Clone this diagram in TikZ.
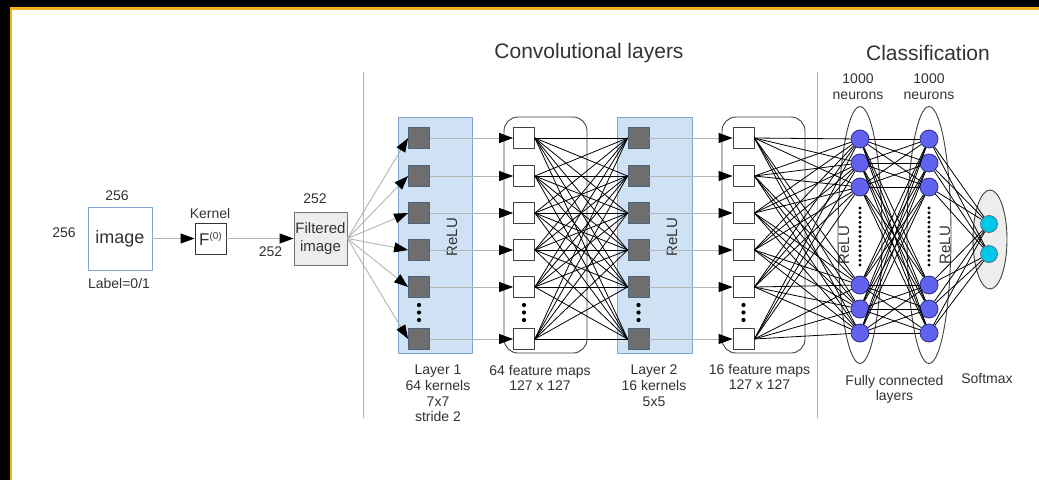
\documentclass[tikz,border=0pt]{standalone}
\usepackage{fontspec}
\setmainfont{Liberation Sans}
\usetikzlibrary{arrows.meta,shapes.geometric}
\definecolor{txt}{RGB}{51,51,51}
\definecolor{lineg}{RGB}{180,180,180}
\definecolor{bluefill}{RGB}{207,226,243}
\definecolor{blueedge}{RGB}{130,165,205}
\definecolor{sqfill}{RGB}{110,110,110}
\definecolor{neur}{RGB}{98,98,240}
\definecolor{neuredge}{RGB}{45,45,140}
\definecolor{soft}{RGB}{0,200,235}
\definecolor{frame}{RGB}{240,180,30}
\begin{document}
\begin{tikzpicture}[x=1pt,y=-1pt,>={Triangle[length=14pt,width=10pt,color=black]},
	font=\fontsize{14}{15.6}\selectfont, text=txt, line join=round,
	lbl/.style={align=center, inner sep=0pt},
	darksq/.style={draw=blueedge!60!black, line width=0.8pt, fill=sqfill, minimum size=21pt, inner sep=0pt},
	whitesq/.style={draw=black!75, line width=0.8pt, fill=white, minimum size=21pt, inner sep=0pt},
	neuron/.style={circle, draw=neuredge, line width=0.8pt, fill=neur, minimum size=18pt, inner sep=0pt},
	outneuron/.style={circle, draw=cyan!50!black, line width=0.8pt, fill=soft, minimum size=17pt, inner sep=0pt},
	group/.style={draw=black!75, line width=0.9pt, rounded corners=14pt, minimum width=83pt, minimum height=236pt},
	layerbox/.style={draw=blueedge, line width=0.9pt, fill=bluefill, minimum width=74pt, minimum height=236pt},
	fcbox/.style={ellipse, draw=black!75, line width=0.9pt, minimum width=44pt, minimum height=257pt, inner sep=0pt},
	feed/.style={draw=lineg, line width=0.9pt},
	conn/.style={draw=black, line width=0.8pt},
	relu/.style={rotate=90, inner sep=0pt, font=\fontsize{15}{15}\selectfont}]
	\def\ya{138} \def\yb{176} \def\yc{213} \def\yd{250} \def\ye{287} \def\yf{339}
	% frame
	\fill[black] (0,0) rectangle (1039,480);
	\fill[frame] (10,7) rectangle (1039,480);
	\fill[white] (12,9.5) rectangle (1039,480);
	\useasboundingbox (0,0) rectangle (1039,480);
	\draw[lineg] (363,72) -- (363,418);
	\draw[lineg] (817,72) -- (817,418);
	\node[lbl, font=\fontsize{21}{21}\selectfont] (conv) at (589,53) {Convolutional layers};
	\node[lbl, font=\fontsize{21}{21}\selectfont] (cls) at (928,53) {Classification};
	% input
	\node[lbl] (iw) at (64,233) {256};
	\node[draw=blueedge, line width=0.9pt, minimum width=64pt, minimum height=63pt, inner sep=0pt, font=\fontsize{18}{18}\selectfont] (img) at (120,238.5) {image};
	\node[lbl] (ih) at (117,196) {256};
	\node[lbl] (lab) at (119,283) {Label=0/1};
	\node[lbl] (kern) at (210,213) {Kernel};
	\node[draw=black!80, line width=0.9pt, minimum size=31pt, inner sep=0pt, font=\fontsize{17}{17}\selectfont] (ker) at (210.5,238.5) {F\raisebox{6pt}{\fontsize{10}{10}\selectfont(0)}};
	\node[lbl] (fh) at (270.5,252) {252};
	\node[lbl] (fw) at (315,199) {252};
	\node[draw=black!55, line width=0.9pt, fill=black!7, minimum width=53pt, minimum height=53pt, inner sep=0pt, align=center, font=\fontsize{15}{18}\selectfont] (filt) at (320.5,238.5) {Filtered\\image};
	\draw[feed,->] (img) -- (ker);
	\draw[feed,->] (ker) -- (filt);
	% convolutional layers
	\node[layerbox] (l1) at (435,235) {};
	\node[group] (g1) at (545.5,235) {};
	\node[layerbox, minimum width=75pt] (l2) at (654.5,235) {};
	\node[group] (g2) at (763.5,235) {};
	\foreach \y [count=\i] in {\ya,\yb,\yc,\yd,\ye,\yf}{
		\node[darksq] (a\i) at (419,\y) {};
		\node[whitesq] (b\i) at (524,\y) {};
		\node[darksq] (c\i) at (638.5,\y) {};
		\node[whitesq] (d\i) at (743.5,\y) {};
	}
	\foreach \x in {419,524,638.5,743.5}
		\foreach \y in {305,312.5,320} \fill[black] (\x,\y) circle (2.1);
	\node[relu] (r1) at (452,237) {ReLU};
	\node[relu] (r2) at (672,237) {ReLU};
	% classification
	\node[fcbox] (fc1) at (860,235) {};
	\node[fcbox] (fc2) at (929,235) {};
	\node[ellipse, draw=black!75, line width=0.9pt, fill=black!7, minimum width=34pt, minimum height=99pt, inner sep=0pt] (sm) at (990,239.5) {};
	\foreach \y [count=\i] in {139,163,187,285,309,333}{
		\node[neuron] (n\i) at (860,\y) {};
		\node[neuron] (m\i) at (929,\y) {};
	}
	\node[outneuron] (s1) at (989,224) {};
	\node[outneuron] (s2) at (989,254) {};
	\foreach \k in {0,...,12}{
		\fill[black] (860,{208+\k*4.75}) circle (1.6);
		\fill[black] (929,{208+\k*4.75}) circle (1.6);
	}
	\node[relu] (r3) at (844,245) {ReLU};
	\node[relu] (r4) at (945,245) {ReLU};
	% connections
	\foreach \i in {1,...,6}{
		\draw[feed,->] (filt.east) -- (a\i.west);
		\draw[feed,->] (a\i.east) -- (b\i.west);
		\draw[feed,->] (c\i.east) -- (d\i.west);
		\foreach \j in {1,...,6}{
			\draw[conn] (b\i.east) -- (c\j.west);
			\draw[conn] (d\i.east) -- (n\j);
			\draw[conn] (n\i) -- (m\j);
		}
		\draw[conn] (m\i) -- (s1);
		\draw[conn] (m\i) -- (s2);
	}
	% labels
	\node[lbl, anchor=north] (t1) at (438,365) {Layer 1\\64 kernels\\7x7\\stride 2};
	\node[lbl, anchor=north] (t2) at (540,365) {64 feature maps\\127 x 127};
	\node[lbl, anchor=north] (t3) at (654,365) {Layer 2\\16 kernels\\5x5};
	\node[lbl, anchor=north] (t4) at (759.5,364) {16 feature maps\\127 x 127};
	\node[lbl] (t5) at (858,86.5) {1000\\neurons};
	\node[lbl] (t6) at (929,86.5) {1000\\neurons};
	\node[lbl, anchor=north] (t7) at (894.5,375) {Fully connected\\layers};
	\node[lbl] (t8) at (987,378) {Softmax};
\end{tikzpicture}
\end{document}
